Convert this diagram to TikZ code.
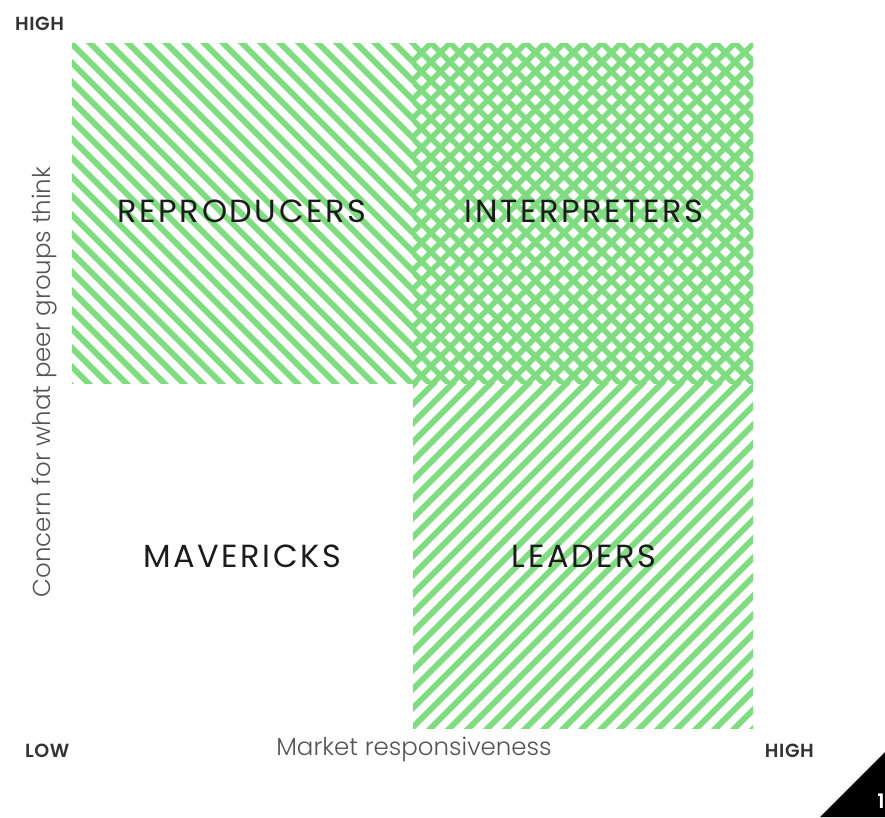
\documentclass[tikz,border=0pt]{standalone}
\usepackage{fontspec}
\setmainfont{Poppins}
\newfontfamily\lightfont{Poppins Light}
\newfontfamily\quadfont[LetterSpace=8]{Poppins}
\newfontfamily\semifont[LetterSpace=3]{Poppins SemiBold}
\definecolor{stripe}{RGB}{128,220,128}
\definecolor{ink}{RGB}{28,28,28}
\tikzset{
  quadlabel/.style={font=\quadfont\fontsize{32}{36}\selectfont, text=ink, inner sep=0pt},
  axislabel/.style={font=\semifont\fontsize{19}{22}\selectfont, text=ink!90, inner sep=0pt},
  axistitle/.style={font=\lightfont\fontsize{24.5}{28}\selectfont, text=ink!75, inner sep=0pt},
  stripeline/.style={draw=stripe, line width=5.8pt}
}
\begin{document}
\begin{tikzpicture}[x=1pt,y=-1pt]
\useasboundingbox (0,0) rectangle (885,817);
\fill[white] (0,0) rectangle (885,817);
% top-left quadrant: "\" stripes
\begin{scope}
  \clip (72,43) rectangle (413,383);
  \foreach \c in {-400,-381,...,420} {
    \draw[stripeline] (72+\c-20,23) -- (72+\c+400,443);
  }
\end{scope}
% top-right: crosshatch
\begin{scope}
  \clip (413,43) rectangle (753,383);
  \foreach \c in {-400,-381,...,420} {
    \draw[stripeline, line width=5.4pt] (413+\c-20,23) -- (413+\c+400,443);
    \draw[stripeline, line width=5.4pt] (413+\c-20,443) -- (413+\c+400,23);
  }
\end{scope}
% bottom-right: "/" stripes
\begin{scope}
  \clip (413,383) rectangle (753,728);
  \foreach \c in {-400,-381,...,420} {
    \draw[stripeline] (413+\c-20,748) -- (413+\c+400,328);
  }
\end{scope}
% quadrant labels
\node[quadlabel] (repro) at (242,211) {REPRODUCERS};
\node[quadlabel] (interp) at (584,211) {INTERPRETERS};
\node[quadlabel] (mav) at (242,556) {MAVERICKS};
\node[quadlabel] (lead) at (584,556) {LEADERS};
% axes
\node[axislabel, anchor=west] (yhigh) at (15,24) {HIGH};
\node[axislabel, anchor=west] (xlow) at (25,751) {LOW};
\node[axislabel, anchor=east] (xhigh) at (814,751) {HIGH};
\node[axistitle] (xtitle) at (414,749) {Market responsiveness};
\node[axistitle, rotate=90] (ytitle) at (45,382) {Concern for what peer groups think};
% corner tab
\fill[black] (820,817) -- (885,752) -- (885,817) -- cycle;
\node[font=\semifont\fontsize{20}{22}\selectfont, text=white, inner sep=0pt] (pnum) at (881,801) {1};
\end{tikzpicture}
\end{document}
